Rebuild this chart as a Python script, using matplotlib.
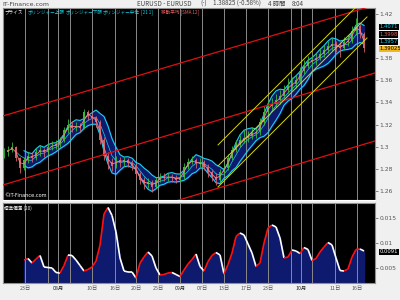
import numpy as np
import pandas as pd
import matplotlib
matplotlib.use("Agg")
import matplotlib.pyplot as plt
from matplotlib.collections import LineCollection

plt.rcParams['font.family'] = ['Noto Sans CJK JP', 'DejaVu Sans']

# ---- data (one candle ~ one trading day of 4h bars)
close = [1.295, 1.297, 1.300, 1.290, 1.281, 1.288, 1.292, 1.290, 1.295, 1.297,
         1.295, 1.300, 1.301, 1.302, 1.306, 1.315, 1.320, 1.317, 1.319, 1.317,
         1.331, 1.328, 1.326, 1.322, 1.306, 1.292, 1.286, 1.283, 1.288, 1.286,
         1.288, 1.285, 1.283, 1.275, 1.270, 1.266, 1.268, 1.264, 1.270, 1.273,
         1.272, 1.273, 1.272, 1.270, 1.273, 1.282, 1.286, 1.288, 1.284, 1.286,
         1.282, 1.277, 1.273, 1.270, 1.277, 1.281, 1.290, 1.297, 1.302, 1.306,
         1.308, 1.310, 1.312, 1.313, 1.322, 1.331, 1.337, 1.339, 1.342, 1.346,
         1.351, 1.355, 1.357, 1.360, 1.368, 1.373, 1.377, 1.378, 1.380, 1.384,
         1.387, 1.391, 1.393, 1.391, 1.389, 1.395, 1.396, 1.405, 1.409, 1.402,
         1.389]
high = [1.299, 1.301, 1.304, 1.301, 1.291, 1.291, 1.295, 1.295, 1.299, 1.301,
        1.299, 1.303, 1.305, 1.306, 1.309, 1.318, 1.325, 1.323, 1.322, 1.321,
        1.334, 1.333, 1.331, 1.328, 1.324, 1.309, 1.295, 1.290, 1.292, 1.291,
        1.291, 1.290, 1.288, 1.285, 1.277, 1.273, 1.272, 1.270, 1.273, 1.276,
        1.276, 1.276, 1.275, 1.274, 1.276, 1.285, 1.290, 1.292, 1.290, 1.290,
        1.288, 1.284, 1.279, 1.276, 1.280, 1.285, 1.293, 1.301, 1.306, 1.311,
        1.315, 1.314, 1.318, 1.317, 1.326, 1.337, 1.342, 1.344, 1.348, 1.351,
        1.356, 1.362, 1.363, 1.365, 1.372, 1.378, 1.382, 1.383, 1.385, 1.389,
        1.392, 1.396, 1.398, 1.396, 1.395, 1.399, 1.401, 1.409, 1.416, 1.411,
        1.404]
low = [1.290, 1.292, 1.295, 1.287, 1.276, 1.279, 1.285, 1.286, 1.288, 1.292,
       1.291, 1.293, 1.297, 1.298, 1.300, 1.304, 1.312, 1.313, 1.314, 1.313,
       1.316, 1.324, 1.322, 1.318, 1.302, 1.288, 1.280, 1.278, 1.281, 1.282,
       1.283, 1.282, 1.279, 1.272, 1.266, 1.262, 1.263, 1.259, 1.263, 1.268,
       1.269, 1.269, 1.268, 1.267, 1.268, 1.271, 1.280, 1.284, 1.281, 1.282,
       1.279, 1.273, 1.269, 1.265, 1.268, 1.275, 1.279, 1.288, 1.295, 1.300,
       1.303, 1.304, 1.307, 1.308, 1.311, 1.320, 1.329, 1.333, 1.336, 1.339,
       1.344, 1.349, 1.351, 1.353, 1.358, 1.366, 1.371, 1.372, 1.374, 1.378,
       1.381, 1.385, 1.387, 1.386, 1.381, 1.387, 1.391, 1.394, 1.401, 1.398,
       1.386]
# standard deviation (20) from the lower panel, starts at candle 5
std20 = [np.nan] * 5 + [
    0.0066, 0.0069, 0.0060, 0.0068, 0.0075, 0.0052, 0.0051, 0.0050, 0.0041, 0.0040,
    0.0055, 0.0076, 0.0075, 0.0066, 0.0055, 0.0044, 0.0047, 0.0052, 0.0064, 0.0096,
    0.0158, 0.0171, 0.0155, 0.0122, 0.0070, 0.0044, 0.0042, 0.0042, 0.0030, 0.0060,
    0.0072, 0.0082, 0.0074, 0.0050, 0.0036, 0.0037, 0.0040, 0.0041, 0.0037, 0.0033,
    0.0046, 0.0058, 0.0067, 0.0078, 0.0053, 0.0044, 0.0063, 0.0075, 0.0081, 0.0076,
    0.0038, 0.0057, 0.0080, 0.0113, 0.0120, 0.0116, 0.0098, 0.0080, 0.0053, 0.0060,
    0.0100, 0.0130, 0.0136, 0.0132, 0.0110, 0.0070, 0.0072, 0.0086, 0.0084, 0.0079,
    0.0091, 0.0087, 0.0065, 0.0069, 0.0082, 0.0092, 0.0101, 0.0096, 0.0070, 0.0045,
    0.0044, 0.0048, 0.0072, 0.0087, 0.0088, 0.0084]

# week separators and date labels (candle index)
grid_pos = [5.25, 11, 13.5, 16.5, 22, 27.75, 33, 38.5, 44, 49.5, 55, 60.5,
            66, 71.75, 74.25, 77, 82.75, 88.25]
tick_pos = [5.25, 13.5, 22, 27.75, 33, 38.5, 44, 49.5, 55, 60.5, 66, 74.25, 82.75, 88.25]
tick_lab = ["23日", "08月", "10日", "16日", "20日", "25日", "09月", "07日",
            "13日", "17日", "23日", "10月", "11日", "16日"]

# drawn trend lines: (x0, p0, x1, p1)
red_lines = [(-0.25, 1.3278, 92.75, 1.4281),
             (-0.25, 1.2654, 92.75, 1.3667),
             (-0.25, 1.2039, 92.75, 1.3052)]
yellow_lines = [(53.5, 1.3016, 87.75, 1.4254),
                (53.5, 1.2826, 90.75, 1.4173),
                (53.5, 1.2636, 90.75, 1.3983)]

price_ticks = [1.26, 1.28, 1.30, 1.32, 1.34, 1.36, 1.38, 1.42]
price_labels = ["1.26", "1.28", "1.3", "1.32", "1.34", "1.36", "1.38", "1.42"]

# ---- derived series
n = len(close)
x = np.arange(n)
c = np.array(close)
o = np.array([close[0]] + close[:-1])
sd = pd.Series(std20)
mid = pd.Series(close).rolling(4).mean()
upper = mid + sd
lower = mid - sd
sma = pd.Series(close).rolling(2).mean()

navy = "#0e1a6e"
cyan = "#19d3e6"
num = ["DejaVu Sans"]

fig = plt.figure(figsize=(4, 3), dpi=100, facecolor="#f0f0f0")
ax = fig.add_axes([0.0075, 0.3333, 0.93, 0.64], facecolor="black")
ax2 = fig.add_axes([0.0075, 0.0567, 0.93, 0.2667], facecolor="black")

for a in (ax, ax2):
    a.set_xlim(-0.25, 92.75)
    for g in grid_pos:
        a.axvline(g, color="#8a8a8a", lw=0.7, zorder=1.5)
    for s in a.spines.values():
        s.set_color("#909090")
        s.set_linewidth(0.8)
    a.yaxis.tick_right()
    a.tick_params(axis="y", labelsize=4.3, colors="#555555", length=2, pad=1, width=0.5)

# price panel
ax.set_ylim(1.2518, 1.4254)
ax.fill_between(x, lower, upper, color=navy, zorder=1)
ax.plot(x, upper, color=cyan, lw=0.8, zorder=2)
ax.plot(x, lower, color=cyan, lw=0.8, zorder=2)
ax.plot(x, mid, color=cyan, lw=0.5, zorder=2)
up = c >= o
cols = np.where(up, "#38b838", "#d0606a")
ax.vlines(x, low, high, colors=cols, lw=0.6, zorder=3)
ax.bar(x, c - o, bottom=o, width=0.6, color=cols, zorder=3)
ax.plot(x, sma, color="#ff8080", lw=0.6, zorder=4)
for x0, p0, x1, p1 in red_lines:
    ax.plot([x0, x1], [p0, p1], color="#e01010", lw=0.9, zorder=5)
for x0, p0, x1, p1 in yellow_lines:
    ax.plot([x0, x1], [p0, p1], color="#d8d800", lw=0.7, zorder=5)
ax.set_yticks(price_ticks)
ax.set_yticklabels(price_labels, family=num)
ax.set_xticks([])
ax.spines["bottom"].set_color("white")

# legend row (positions in pixels of the 400 px wide figure)
fs = 3.3
legend = [("プライス", 4, "white"), ("ボリンジャー上限", 28, cyan),
          ("ボリンジャー下限", 66, cyan), ("ボリンジャー中位", 103, cyan),
          ("[21 1]", 141, cyan), ("移動平均 [SMA 12]", 161, "#e86060")]
for txt, px, col in legend:
    fig.text(px / 400, 1 - 12 / 300, txt, color=col, fontsize=fs, va="center")
ax.text(0.003, 0.012, "©IT-Finance.com", color="white", fontsize=3.6, transform=ax.transAxes,
        va="bottom", family=num)

# value boxes
boxes = [("1.4071", 0.903, cyan, "black"), ("1.3998", 0.862, "#e06060", "black"),
         ("1.3957", 0.823, cyan, "black"), ("1.39025", 0.788, "black", "#f0b820")]
for txt, yf, fc, bc in boxes:
    ax.text(1.012, yf, txt, color=fc, fontsize=3.8, transform=ax.transAxes, va="center",
            family=num, bbox=dict(boxstyle="square,pad=0.12", fc=bc, ec="none"))

# std panel
ax2.set_ylim(0.002, 0.018)
ax2.fill_between(x, 0, sd, color=navy, zorder=1)
pts = np.column_stack([x, sd.values])
segs = np.stack([pts[:-1], pts[1:]], axis=1)
seg_cols = ["#ff1010" if b > a else "white" for a, b in zip(sd.values[:-1], sd.values[1:])]
ax2.add_collection(LineCollection(segs, colors=seg_cols, lw=1.2, zorder=3))
ax2.set_yticks([0.005, 0.01, 0.015])
ax2.set_yticklabels(["0.005", "0.01", "0.015"], family=num)
ax2.set_xticks(tick_pos)
ax2.set_xticklabels(tick_lab)
ax2.tick_params(axis="x", labelsize=3.8, colors="#555555", length=0, pad=2)
for lab in ax2.get_xticklabels():
    if lab.get_text().endswith("月"):
        lab.set_color("#222222")
ax2.text(0.003, 0.94, "標準偏差 (20)", color="white", fontsize=3.3, transform=ax2.transAxes,
         va="center")
ax2.text(1.012, 0.3875, "0.0091", color="white", fontsize=3.8, transform=ax2.transAxes,
         va="center", family=num, bbox=dict(boxstyle="square,pad=0.12", fc="black", ec="none"))

# header
hy = 1 - 4 / 300
fig.text(0.005, hy, "IT-Finance.com", fontsize=4.5, color="#444444", va="center", family=num)
header = [("EURUSD - EURUSD", 137), ("(-)", 200), ("1.38825 (-0.58%)", 213),
          ("4 時間", 268), ("8:04", 292)]
for txt, px in header:
    fig.text(px / 400, hy, txt, fontsize=4.5, color="#444444", va="center")

fig.savefig("out.png", dpi=100, facecolor=fig.get_facecolor())
